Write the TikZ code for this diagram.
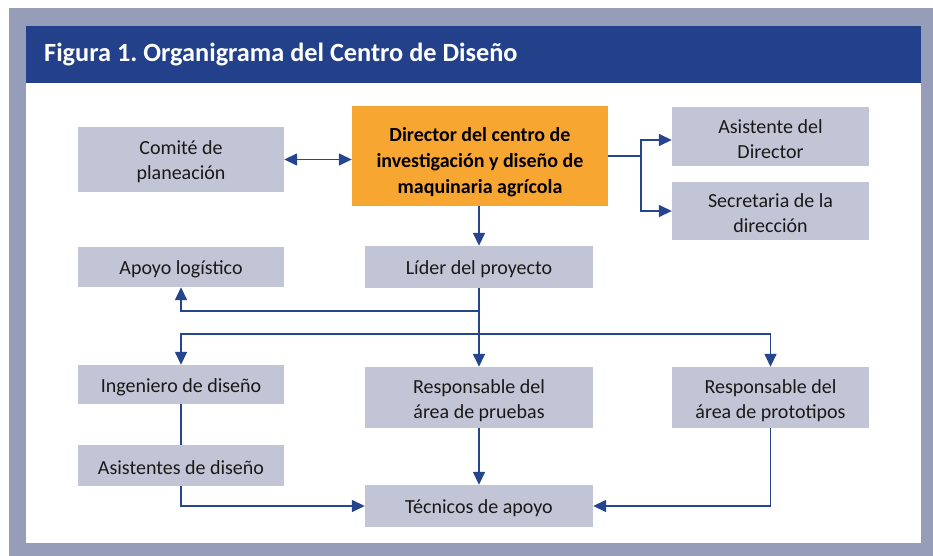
\documentclass[tikz,border=0pt]{standalone}
\usepackage{fontspec}
\setmainfont{Carlito}
\usetikzlibrary{arrows.meta}
\definecolor{framec}{HTML}{959DB8}
\definecolor{hdr}{HTML}{22418A}
\definecolor{boxg}{HTML}{C2C5D5}
\definecolor{orng}{HTML}{F8A632}
\definecolor{lnk}{HTML}{26458F}
\frenchspacing
\newcommand{\upstrut}[1]{\rule{0pt}{#1}}
\begin{document}
\begin{tikzpicture}[x=1pt,y=-1pt,
 box/.style={fill=boxg, inner sep=0pt, align=center, text=black!90,
   font=\fontsize{20}{25}\selectfont},
 orgbox/.style={fill=orng, inner sep=0pt, align=center, text=black,
   font=\fontsize{20}{26.3}\selectfont\bfseries},
 conn/.style={draw=lnk, line width=1.5pt, -{Triangle[length=13pt,width=12pt]}},
 dconn/.style={draw=lnk, line width=1.5pt, {Triangle[length=13pt,width=12pt]}-{Triangle[length=13pt,width=12pt]}},
 plainln/.style={draw=lnk, line width=1.5pt}]
\useasboundingbox (0,0) rectangle (933,556);
\fill[framec] (9,8) rectangle (933,556);
\fill[white] (26,83) rectangle (921,543);
\fill[hdr] (26,26) rectangle (921,83);
\node[anchor=west, text=white, inner sep=0pt, font=\fontsize{26.3}{30}\selectfont\bfseries] (title) at (44,55) {Figura 1. Organigrama del Centro de Diseño};

\node[box, minimum width=206pt, minimum height=65pt] (comite) at (181,159.5) {\upstrut{18pt}Comité de\\planeación};
\node[orgbox, minimum width=256pt, minimum height=100pt] (director) at (480,156) {\upstrut{26pt}Director del centro de\\investigación y diseño de\\maquinaria agrícola};
\node[box, minimum width=197pt, minimum height=59pt] (asist) at (770.5,136.5) {\upstrut{20pt}Asistente del\\Director};
\node[box, minimum width=197pt, minimum height=58pt] (secre) at (770.5,211) {\upstrut{19pt}Secretaria de la\\dirección};
\node[box, minimum width=206pt, minimum height=40pt] (apoyo) at (181,267) {\upstrut{19pt}Apoyo logístico};
\node[box, minimum width=228pt, minimum height=42pt] (lider) at (479,267) {\upstrut{19pt}Líder del proyecto};
\node[box, minimum width=206pt, minimum height=39pt] (ing) at (181,384.5) {\upstrut{19pt}Ingeniero de diseño};
\node[box, minimum width=228pt, minimum height=61pt] (pruebas) at (479,397.5) {\upstrut{20pt}Responsable del\\área de pruebas};
\node[box, minimum width=197pt, minimum height=61pt] (proto) at (770.5,397.5) {\upstrut{20pt}Responsable del\\área de prototipos};
\node[box, minimum width=206pt, minimum height=41pt] (asistd) at (181,465.5) {\upstrut{19pt}Asistentes de diseño};
\node[box, minimum width=228pt, minimum height=42pt] (tecnicos) at (479,506) {\upstrut{19pt}Técnicos de apoyo};

\coordinate (dj) at (641,156);
\coordinate (b1) at (479,311);
\coordinate (b2) at (479,334);

\draw[dconn] (comite.east) -- (director.west |- comite.east);
\draw[plainln] (director.east) -- (dj);
\draw[conn] (dj) |- ([yshift=-3.5pt]asist.west);
\draw[conn] (dj) |- (secre.west);
\draw[conn] (director.south -| lider.north) -- (lider.north);
\draw[conn] (lider.south) -- (pruebas.north);
\draw[conn] (b1) -| (apoyo.south);
\draw[conn] (b2) -| (ing.north);
\draw[conn] (b2) -| (proto.north);
\draw[plainln] (ing.south) -- (asistd.north);
\draw[conn] (asistd.south) |- (tecnicos.west);
\draw[conn] (pruebas.south) -- (tecnicos.north);
\draw[conn] (proto.south) |- (tecnicos.east);
\end{tikzpicture}
\end{document}
